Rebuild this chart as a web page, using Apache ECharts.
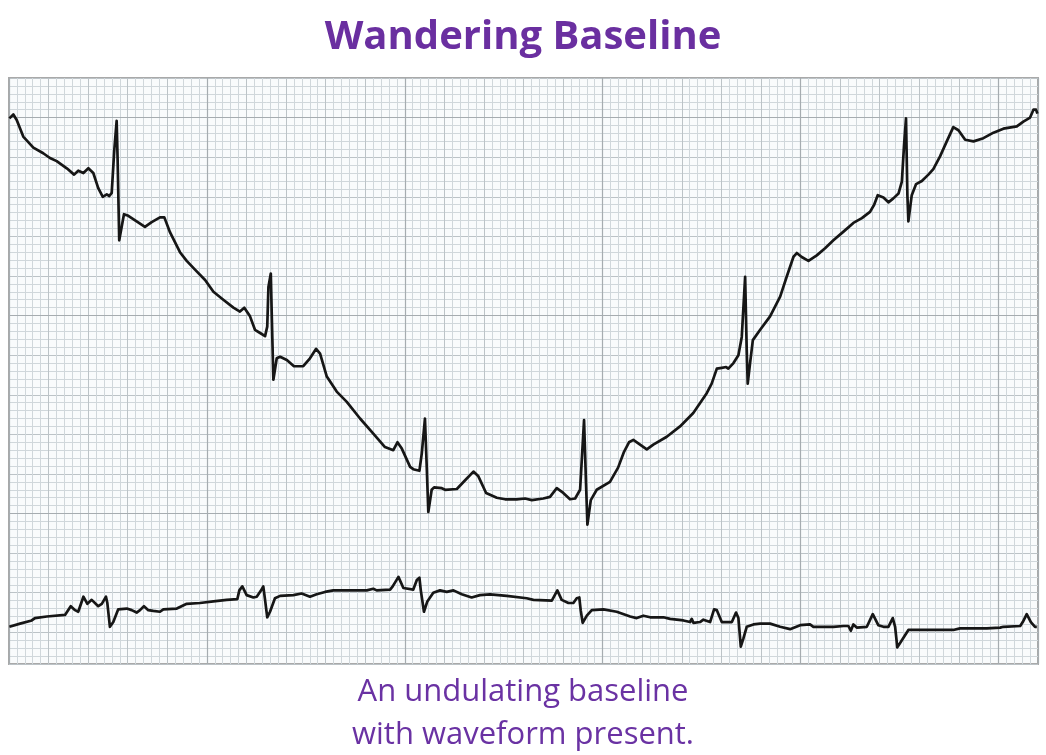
<!DOCTYPE html>
<html>
<head>
<meta charset="utf-8">
<title>Wandering Baseline</title>
<script src="https://cdn.jsdelivr.net/npm/echarts@6/dist/echarts.min.js"></script>
<style>
  html, body { margin: 0; padding: 0; background: #fff; }
  #chart { width: 1046px; height: 755px; }
</style>
</head>
<body>
<div id="chart"></div>
<script>
// upper strip: time (s) and amplitude (mV)
var upperTime = [0.002,0.022,0.039,0.072,0.123,0.173,0.207,0.241,0.292,0.329,
    0.350,0.376,0.401,0.426,0.451,0.474,0.494,0.507,0.519,0.532,
    0.544,0.549,0.557,0.581,0.603,0.645,0.687,0.721,0.763,0.785,
    0.814,0.864,0.898,0.940,0.991,1.033,1.083,1.134,1.167,1.189,
    1.218,1.243,1.269,1.294,1.305,1.311,1.323,1.328,1.336,1.353,
    1.370,1.404,1.440,1.487,1.521,1.552,1.572,1.606,1.656,1.707,
    1.774,1.841,1.900,1.942,1.963,1.985,2.027,2.043,2.074,2.086,
    2.102,2.111,2.119,2.136,2.148,2.187,2.204,2.263,2.305,2.347,
    2.372,2.411,2.465,2.507,2.566,2.608,2.642,2.700,2.734,2.768,
    2.801,2.835,2.861,2.886,2.906,2.916,2.923,2.940,2.970,3.037,
    3.078,3.108,3.133,3.155,3.189,3.223,3.256,3.324,3.391,3.458,
    3.526,3.551,3.577,3.602,3.624,3.635,3.661,3.686,3.703,3.720,
    3.728,3.733,3.745,3.759,3.796,3.846,3.897,3.930,3.964,3.981,
    4.006,4.040,4.082,4.124,4.166,4.217,4.267,4.310,4.351,4.372,
    4.390,4.419,4.444,4.469,4.495,4.512,4.523,4.533,4.540,4.545,
    4.562,4.584,4.613,4.646,4.671,4.705,4.739,4.772,4.798,4.832,
    4.874,4.924,4.975,5.025,5.093,5.126,5.160,5.177,5.190,5.197];
var upperMv = [6.89,6.94,6.87,6.66,6.52,6.45,6.39,6.35,6.26,6.18,
    6.23,6.20,6.26,6.20,6.01,5.90,5.93,5.91,5.95,6.49,
    6.86,6.36,5.35,5.68,5.66,5.59,5.52,5.58,5.64,5.64,
    5.45,5.20,5.09,4.98,4.85,4.70,4.60,4.50,4.45,4.50,
    4.39,4.22,4.18,4.14,4.26,4.76,4.93,4.39,3.59,3.86,
    3.88,3.84,3.76,3.76,3.86,3.98,3.92,3.63,3.44,3.31,
    3.10,2.91,2.74,2.70,2.80,2.72,2.49,2.46,2.44,2.66,
    3.10,2.49,1.92,2.20,2.23,2.22,2.20,2.21,2.32,2.43,
    2.37,2.16,2.10,2.08,2.08,2.09,2.07,2.09,2.11,2.22,
    2.16,2.08,2.09,2.20,3.08,2.28,1.76,2.07,2.20,2.30,
    2.48,2.68,2.80,2.83,2.77,2.71,2.77,2.87,3.00,3.17,
    3.42,3.54,3.73,3.74,3.75,3.73,3.80,3.90,4.13,4.89,
    3.97,3.54,3.80,4.09,4.22,4.39,4.64,4.89,5.14,5.19,
    5.14,5.09,5.16,5.25,5.35,5.46,5.57,5.63,5.71,5.80,
    5.92,5.89,5.83,5.88,5.94,6.09,6.55,6.89,5.92,5.59,
    5.92,6.06,6.10,6.18,6.25,6.41,6.60,6.78,6.74,6.62,
    6.60,6.64,6.71,6.76,6.79,6.85,6.90,7.00,7.00,6.95];

// lower strip
var lowerTime = [0.002,0.056,0.115,0.131,0.191,0.283,0.292,0.312,0.334,0.350,
    0.376,0.396,0.418,0.451,0.469,0.490,0.497,0.510,0.527,0.552,
    0.595,0.620,0.645,0.662,0.682,0.704,0.729,0.763,0.780,0.848,
    0.864,0.898,0.965,1.033,1.100,1.154,1.164,1.179,1.201,1.235,
    1.252,1.274,1.285,1.294,1.305,1.319,1.344,1.370,1.437,1.479,
    1.521,1.555,1.597,1.639,1.723,1.808,1.841,1.858,1.926,1.939,
    1.968,1.993,2.043,2.061,2.074,2.081,2.097,2.114,2.144,2.178,
    2.212,2.246,2.288,2.338,2.380,2.431,2.515,2.616,2.650,2.743,
    2.754,2.771,2.793,2.827,2.852,2.869,2.882,2.889,2.899,2.920,
    2.945,3.004,3.071,3.139,3.172,3.206,3.240,3.307,3.341,3.408,
    3.442,3.450,3.459,3.492,3.509,3.543,3.563,3.577,3.602,3.653,
    3.674,3.686,3.698,3.711,3.728,3.762,3.796,3.846,3.897,3.947,
    3.998,4.048,4.065,4.166,4.217,4.242,4.254,4.267,4.284,4.335,
    4.365,4.393,4.419,4.444,4.466,4.478,4.489,4.512,4.545,4.604,
    4.705,4.772,4.806,4.941,5.009,5.025,5.110,5.123,5.143,5.164,
    5.185,5.194];
var lowerMv = [0.47,0.51,0.55,0.58,0.60,0.62,0.63,0.73,0.68,0.66,
    0.85,0.76,0.81,0.73,0.76,0.85,0.77,0.47,0.53,0.69,
    0.70,0.68,0.65,0.68,0.73,0.68,0.67,0.66,0.69,0.70,
    0.72,0.76,0.77,0.79,0.81,0.82,0.93,0.98,0.87,0.84,
    0.85,0.93,0.98,0.81,0.59,0.66,0.83,0.86,0.87,0.89,
    0.85,0.88,0.91,0.93,0.93,0.93,0.95,0.93,0.94,0.98,
    1.10,0.96,0.94,1.06,1.09,0.93,0.66,0.79,0.90,0.93,
    0.91,0.93,0.88,0.84,0.87,0.88,0.86,0.83,0.81,0.80,
    0.85,0.93,0.81,0.77,0.77,0.83,0.84,0.68,0.52,0.61,
    0.68,0.69,0.66,0.60,0.58,0.61,0.59,0.59,0.57,0.55,
    0.53,0.57,0.52,0.53,0.56,0.53,0.69,0.68,0.53,0.53,
    0.65,0.58,0.22,0.32,0.47,0.50,0.51,0.51,0.47,0.44,
    0.49,0.50,0.47,0.47,0.48,0.48,0.42,0.50,0.46,0.47,
    0.63,0.49,0.47,0.47,0.58,0.47,0.21,0.30,0.43,0.43,
    0.43,0.43,0.45,0.45,0.46,0.47,0.48,0.53,0.63,0.53,
    0.47,0.47];

// heavier paper rows (mV), 5 boxes under the top edge and then every 25
var heavyRowsMv = [6.9, 4.4, 1.9];

var titleText = 'Wandering Baseline';
var captionText = 'An undulating baseline\nwith waveform present.';

function pairs(xs, ys) {
    var out = [];
    for (var i = 0; i < xs.length; i++) {
        out.push([xs[i], ys[i]]);
    }
    return out;
}

function rowLines(vals) {
    var out = [];
    for (var i = 0; i < vals.length; i++) {
        out.push({ yAxis: vals[i] });
    }
    return out;
}

var chart = echarts.init(document.getElementById('chart'), null, { renderer: 'canvas' });

// paper grid: 0.04 s / 0.1 mV small boxes, heavier every 5 and every 25
var minorLine = { show: true, lineStyle: { color: '#d0d7db', width: 1 } };
var midLine = { show: true, lineStyle: { color: '#bcc3c7', width: 1 } };
var majorLine = { show: true, lineStyle: { color: '#a6acb0', width: 1.2 } };
var hidden = { show: false };

option = {
    animation: false,
    backgroundColor: '#ffffff',
    title: [{
        text: titleText,
        left: 'center',
        top: 13,
        textStyle: {
            fontFamily: 'Open Sans',
            fontWeight: 'bold',
            fontSize: 40,
            color: '#6a2fa0'
        }
    }, {
        text: captionText,
        left: 'center',
        top: 666,
        textStyle: {
            fontFamily: 'Open Sans',
            fontWeight: 'normal',
            fontSize: 31,
            lineHeight: 43,
            color: '#6a32a3'
        }
    }],
    grid: {
        left: 9,
        right: 8,
        top: 78,
        bottom: 91,
        show: true,
        backgroundColor: '#f9fbfc',
        borderColor: '#a9a9a9',
        borderWidth: 2
    },
    xAxis: [{
        type: 'value',
        min: 0,
        max: 5.2,
        interval: 0.2,
        axisLine: hidden,
        axisTick: hidden,
        axisLabel: hidden,
        minorTick: { show: false, splitNumber: 5 },
        minorSplitLine: minorLine,
        splitLine: midLine
    }, {
        type: 'value',
        min: 0,
        max: 5.2,
        interval: 1,
        axisLine: hidden,
        axisTick: hidden,
        axisLabel: hidden,
        splitLine: majorLine
    }],
    yAxis: [{
        type: 'value',
        min: 0,
        max: 7.4,
        show: false,
        splitLine: hidden
    }, {
        // paper lines counted down from the top edge of the strip
        type: 'value',
        inverse: true,
        min: 0,
        max: 7.4,
        interval: 0.5,
        axisLine: hidden,
        axisTick: hidden,
        axisLabel: hidden,
        minorTick: { show: false, splitNumber: 5 },
        minorSplitLine: minorLine,
        splitLine: midLine
    }],
    series: [{
        name: 'paper',
        type: 'line',
        data: [],
        silent: true,
        z: 1,
        markLine: {
            silent: true,
            symbol: 'none',
            label: { show: false },
            lineStyle: { color: '#a6acb0', width: 1.2, type: 'solid' },
            data: rowLines(heavyRowsMv)
        }
    }, {
        name: 'upper',
        type: 'line',
        xAxisIndex: 0,
        yAxisIndex: 0,
        showSymbol: false,
        lineStyle: { color: '#161616', width: 2.7, join: 'round' },
        data: pairs(upperTime, upperMv),
        z: 5
    }, {
        name: 'lower',
        type: 'line',
        xAxisIndex: 0,
        yAxisIndex: 0,
        showSymbol: false,
        lineStyle: { color: '#161616', width: 2.7, join: 'round' },
        data: pairs(lowerTime, lowerMv),
        z: 5
    }]
};
chart.setOption(option);
</script>
</body>
</html>
